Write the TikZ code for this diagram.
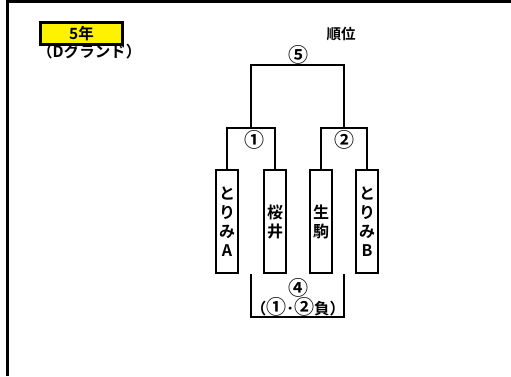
\documentclass[tikz,border=0pt]{standalone}
\usepackage{fontspec}
\setmainfont{Noto Sans CJK JP}[BoldFont={Noto Sans CJK JP Bold}]
\newcommand\circnum[1]{{\fontsize{20}{18}\selectfont #1}}
\begin{document}
\begin{tikzpicture}[x=1pt,y=1pt,
  line join=miter,
  frame/.style={line width=3pt},
  bracket/.style={line width=2pt},
  team/.style={draw, line width=2pt, minimum width=22pt, minimum height=103pt, inner sep=0pt,
    align=center, font=\bfseries\fontsize{16}{19}\selectfont},
  lbl/.style={inner sep=0pt, font=\bfseries\fontsize{15.5}{18}\selectfont}]
\useasboundingbox (0,0) rectangle (511,-376);
\fill[white] (0,0) rectangle (511,-376);
% frame
\draw[frame] (7.5,-376) -- (7.5,-1.5) -- (511,-1.5);
% header
\node[draw, fill=yellow, line width=2.5pt, minimum width=82pt, minimum height=22pt, inner sep=0pt,
  font=\bfseries\fontsize{15.5}{18}\selectfont] (yr) at (81.5,-33.5) {5年};
\node[lbl, anchor=west] (grd) at (37,-52) {（Dグランド）};
\node[inner sep=0pt, font=\bfseries\fontsize{14.5}{16}\selectfont] (rank) at (341,-34) {順位};
% teams
\node[team] (A) at (227,-221.5) {と\\り\\み\\A};
\node[team] (B) at (275,-221.5) {桜\\井};
\node[team] (C) at (321,-221.5) {生\\駒};
\node[team] (D) at (367,-221.5) {と\\り\\み\\B};
% brackets
\coordinate (m1) at (251,-128);
\coordinate (m2) at (344,-128);
\draw[bracket] (A.north) |- (m1) -| (B.north);
\draw[bracket] (C.north) |- (m2) -| (D.north);
\draw[bracket] (m1) |- (297.5,-65) -| (m2);
\node[lbl] (c1) at (254,-140) {\circnum{①}};
\node[lbl] (c2) at (344,-140) {\circnum{②}};
\node[lbl] (c5) at (298,-55) {\circnum{⑤}};
% lower bracket
\coordinate (b1) at (251,-274);
\coordinate (b2) at (344,-274);
\draw[bracket] (b1) |- (297.5,-317) -| (b2);
\node[lbl] (c4) at (298,-288) {\circnum{④}};
\node[lbl] (lose) at (298,-306.5) {（\circnum{①}･\circnum{②}負）};
\end{tikzpicture}
\end{document}
